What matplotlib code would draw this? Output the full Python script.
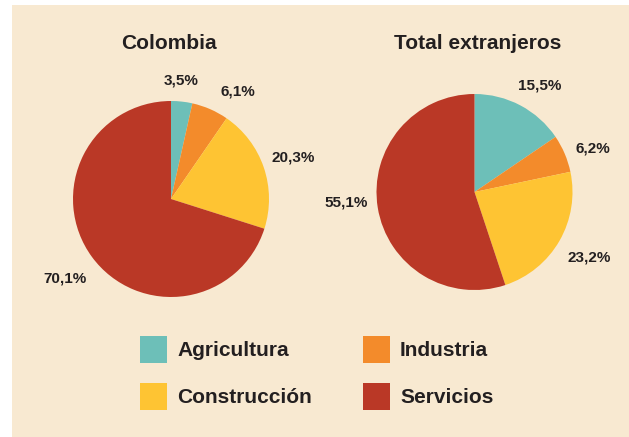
import numpy as np
import matplotlib
matplotlib.use("Agg")
import matplotlib.pyplot as plt
from matplotlib.patches import Rectangle, Patch

plt.rcParams['font.family'] = ['Liberation Sans', 'DejaVu Sans']

# Données
categorias = ["Agricultura", "Industria", "Construcción", "Servicios"]
colombia = [3.5, 6.1, 20.3, 70.1]
extranjeros = [15.5, 6.2, 23.2, 55.1]
titulos = ["Colombia", "Total extranjeros"]

colores = ["#6dbfb8", "#f38b2b", "#fec433", "#ba3826"]
fondo = "#f8e9d1"

W, H = 629, 437
fig = plt.figure(figsize=(W / 100, H / 100), dpi=100)
fig.patch.set_facecolor("white")
fig.patches.append(Rectangle((12 / W, 0), 1 - 12 / W, 1 - 5 / H,
                             transform=fig.transFigure, facecolor=fondo,
                             edgecolor="none", zorder=-10))


def px_axes(cx, cy, r):
    # axes carré centré sur (cx, cy) en pixels depuis le haut
    return fig.add_axes([(cx - r) / W, (H - cy - r) / H, 2 * r / W, 2 * r / H])


def tarta(ax, valores, dist, decal):
    wedges, _ = ax.pie(valores, colors=colores, startangle=90, counterclock=False,
                       radius=1, wedgeprops=dict(linewidth=0))
    # étiquettes centrées sur l'angle médian de chaque part (+ petit décalage)
    for w, v, d, da in zip(wedges, valores, dist, decal):
        ang = np.deg2rad((w.theta1 + w.theta2) / 2 + da)
        ax.text(d * np.cos(ang), d * np.sin(ang), f"{v:.1f}%".replace(".", ","),
                ha="center", va="center", fontsize=11, fontweight="bold",
                color="#231f20", clip_on=False)
    ax.set_xlim(-1, 1)
    ax.set_ylim(-1, 1)
    ax.set_aspect("equal")
    ax.axis("off")


ax1 = px_axes(171, 199, 98)
tarta(ax1, colombia, [1.21, 1.29, 1.32, 1.35], [1.5, -8.4, 0, 0.5])
ax2 = px_axes(474.5, 192, 98)
tarta(ax2, extranjeros, [1.28, 1.29, 1.35, 1.31], [-3.6, -3.1, 0.4, -4.7])

fig.text(169 / W, 1 - 49 / H, titulos[0], ha="center", va="baseline",
         fontsize=15, fontweight="bold", color="#231f20")
fig.text(478 / W, 1 - 49 / H, titulos[1], ha="center", va="baseline",
         fontsize=15, fontweight="bold", color="#231f20")

# Légende
handles = [Patch(facecolor=c, edgecolor="none") for c in colores]
orden = [0, 2, 1, 3]
fig.legend([handles[i] for i in orden], [categorias[i] for i in orden],
           ncol=2, loc="upper left", bbox_to_anchor=(140 / W, 1 - 336 / H),
           frameon=False, borderpad=0, borderaxespad=0,
           prop=dict(size=15, weight="bold"), labelcolor="#231f20",
           handlelength=1.3, handleheight=1.62, handletextpad=0.48,
           labelspacing=0.96, columnspacing=2.45)

fig.savefig("out.png", dpi=100, facecolor=fig.get_facecolor())
